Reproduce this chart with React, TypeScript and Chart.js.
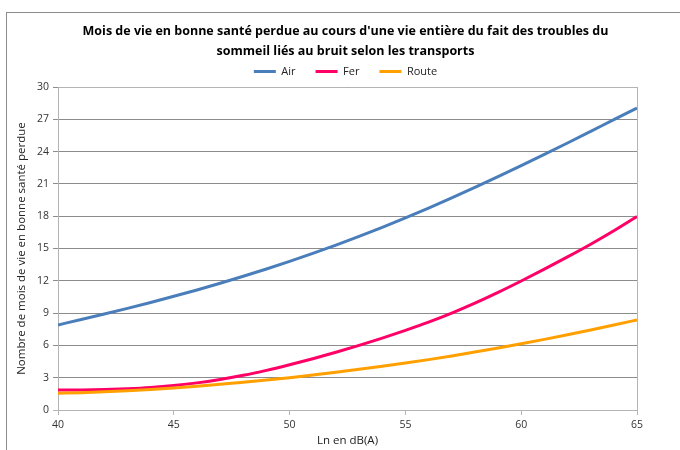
import React, { useEffect, useRef } from "react";
import { Chart, registerables } from "chart.js";

Chart.register(...registerables);

const xValues = [40, 41, 42, 43, 44, 45, 46, 47, 48, 49, 50, 51, 52, 53, 54, 55, 56, 57, 58, 59, 60, 61, 62, 63, 64, 65];
const airValues = [7.9, 8.4, 8.91, 9.44, 9.99, 10.56, 11.15, 11.77, 12.42, 13.1, 13.81, 14.55, 15.32, 16.12, 16.96, 17.84, 18.75, 19.7, 20.68, 21.68, 22.7, 23.74, 24.8, 25.88, 26.97, 28.05];
const ferValues = [1.85, 1.86, 1.9, 1.98, 2.1, 2.28, 2.52, 2.84, 3.22, 3.68, 4.2, 4.76, 5.36, 6.0, 6.68, 7.4, 8.16, 9.0, 9.92, 10.92, 11.98, 13.08, 14.22, 15.4, 16.65, 17.98];
const routeValues = [1.55, 1.61, 1.69, 1.79, 1.91, 2.05, 2.21, 2.39, 2.58, 2.78, 3.0, 3.25, 3.51, 3.78, 4.06, 4.36, 4.68, 5.02, 5.38, 5.76, 6.15, 6.56, 6.99, 7.43, 7.89, 8.37];
const seriesNames = ["Air", "Fer", "Route"];
const titleLines = [
  "Mois de vie en bonne santé perdue au cours d'une vie entière du fait des troubles du",
  "sommeil liés au bruit selon les transports",
];
const xAxisTitle = "Ln en dB(A)";
const yAxisTitle = "Nombre de mois de vie en bonne santé perdue";

const FONT = "'Open Sans', 'Noto Sans', sans-serif";

const framePlugin = {
  id: "frame",
  beforeDraw(chart: any) {
    const ctx = chart.ctx;
    ctx.save();
    ctx.fillStyle = "#ffffff";
    ctx.fillRect(0, 0, chart.width, chart.height);
    ctx.strokeStyle = "#8c8c8c";
    ctx.lineWidth = 1;
    ctx.strokeRect(6.5, 12.5, 800, 600);
    ctx.restore();
  },
  beforeDatasetsDraw(chart: any) {
    const { ctx, chartArea } = chart;
    ctx.save();
    ctx.strokeStyle = "#b4b4b4";
    ctx.lineWidth = 1;
    ctx.beginPath();
    ctx.moveTo(Math.round(chartArea.right) + 0.5, chartArea.top);
    ctx.lineTo(Math.round(chartArea.right) + 0.5, chartArea.bottom);
    ctx.moveTo(chartArea.left, Math.round(chartArea.top) + 0.5);
    ctx.lineTo(chartArea.right, Math.round(chartArea.top) + 0.5);
    ctx.stroke();
    ctx.restore();
  },
};

export default function App() {
  const canvasRef = useRef<HTMLCanvasElement | null>(null);

  useEffect(() => {
    if (!canvasRef.current) return;
    const mk = (vals: number[]) => vals.map((v, i) => ({ x: xValues[i], y: v }));
    const colors = ["#4a7ebb", "#ff0066", "#ffa000"];
    const datas = [airValues, ferValues, routeValues];
    const chart = new Chart(canvasRef.current, {
      type: "line",
      data: {
        datasets: seriesNames.map((name, i) => ({
          label: name,
          data: mk(datas[i]),
          borderColor: colors[i],
          backgroundColor: colors[i],
          borderWidth: 3,
          pointRadius: 0,
          pointHoverRadius: 0,
          tension: 0.4,
          cubicInterpolationMode: "monotone" as const,
          fill: false,
          order: 2 - i,
          yAxisID: "y",
        })),
      },
      plugins: [framePlugin],
      options: {
        animation: false,
        responsive: false,
        maintainAspectRatio: false,
        layout: { padding: { left: 11, right: 0, top: 0, bottom: 2 } },
        plugins: {
          tooltip: { enabled: false },
          title: {
            display: true,
            text: titleLines,
            color: "#000000",
            font: { family: FONT, size: 12.5, weight: "bold", lineHeight: 1.6 },
            padding: { top: 21, bottom: -15 },
          },
          legend: {
            display: true,
            position: "top",
            labels: {
              usePointStyle: true,
              pointStyle: "line",
              pointStyleWidth: 22,
              boxHeight: 3,
              color: "#222222",
              font: { family: FONT, size: 11 },
              padding: 20,
              sort: (a: any, b: any) => a.datasetIndex - b.datasetIndex,
            },
          },
        },
        scales: {
          x: {
            type: "linear",
            min: 40,
            max: 65,
            ticks: {
              stepSize: 5,
              color: "#333333",
              font: { family: FONT, size: 10.5 },
              padding: 4,
              maxRotation: 0,
            },
            grid: {
              drawOnChartArea: false,
              drawTicks: true,
              tickLength: 5,
              color: "#b4b4b4",
            },
            border: { color: "#b4b4b4" },
            title: {
              display: true,
              text: xAxisTitle,
              color: "#222222",
              font: { family: FONT, size: 11.5 },
              padding: { top: 4, bottom: 0 },
            },
            afterFit: (scale: any) => {
              scale.height = 38;
            },
          },
          y: {
            type: "linear",
            position: "left",
            min: 0,
            max: 30,
            ticks: {
              stepSize: 3,
              color: "#333333",
              font: { family: FONT, size: 10.5 },
              padding: 4,
            },
            grid: {
              color: (c: any) => (c.tick && c.tick.value === 0 ? "#b4b4b4" : "#8c8c8c"),
              drawTicks: true,
              tickLength: 5,
            },
            border: { color: "#b4b4b4" },
            title: {
              display: true,
              text: yAxisTitle,
              color: "#222222",
              font: { family: FONT, size: 11.5 },
              padding: { top: 4, bottom: 4 },
            },
            afterFit: (scale: any) => {
              scale.width = 47;
            },
          },
          spacer: {
            type: "linear",
            position: "right",
            display: true,
            min: 0,
            max: 30,
            ticks: { display: false },
            grid: { display: false, drawTicks: false },
            border: { display: false },
            afterFit: (scale: any) => {
              scale.width = 43;
            },
          },
        },
      },
    });
    return () => chart.destroy();
  }, []);

  return (
    <div style={{ position: "fixed", left: 0, top: 0, width: 680, height: 450, background: "#fff" }}>
      <canvas ref={canvasRef} width={680} height={450} style={{ width: 680, height: 450, display: "block" }} />
    </div>
  );
}
